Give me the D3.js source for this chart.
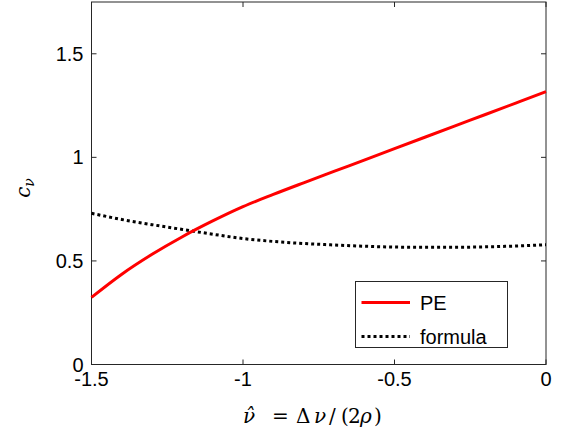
<!DOCTYPE html>
<html>
<head>
<meta charset="utf-8">
<script src="https://cdn.jsdelivr.net/npm/d3@7"></script>
<style>
  body { margin: 0; background: #fff; }
  svg { display: block; }
</style>
</head>
<body>
<svg id="chart" width="564" height="440"></svg>
<script>
// Normalised detuning values
const nuHat = [-1.5, -1.4, -1.3, -1.2, -1.1, -1.0, -0.9, -0.8, -0.7, -0.6, -0.5, -0.4, -0.3, -0.2, -0.1, 0];
// c_nu from the PE computation
const pe = [0.324, 0.436, 0.532, 0.617, 0.693, 0.762, 0.821, 0.877, 0.932, 0.987, 1.042, 1.097, 1.152, 1.207, 1.262, 1.317];
// c_nu from the closed-form formula
const formula = [0.73, 0.70, 0.675, 0.652, 0.629, 0.608, 0.594, 0.584, 0.577, 0.571, 0.567, 0.566, 0.566, 0.568, 0.572, 0.578];

const xTicks = [-1.5, -1, -0.5, 0];
const yTicks = [0, 0.5, 1, 1.5];
const seriesNames = ["PE", "formula"];

(function draw() {
  const svg = d3.select("#chart");
  const plotLeft = 91.5, plotRight = 546, plotTop = 2, plotBottom = 364.5;

  const x = d3.scaleLinear().domain([-1.5, 0]).range([plotLeft, plotRight]);
  const y = d3.scaleLinear().domain([0, 1.75]).range([plotBottom, plotTop]);

  const font = "'Liberation Sans', Arial, Helvetica, sans-serif";
  const serif = "'DejaVu Serif', 'Liberation Serif', serif";
  const axisColor = "#262626";
  const fontSize = 20;

  // plot frame
  svg.append("rect")
    .attr("x", plotLeft).attr("y", plotTop)
    .attr("width", plotRight - plotLeft).attr("height", plotBottom - plotTop)
    .attr("fill", "none").attr("stroke", axisColor).attr("stroke-width", 1);

  // inward ticks on all four sides
  const tickLen = 5;
  const tg = svg.append("g").attr("stroke", axisColor).attr("stroke-width", 1);
  xTicks.forEach(t => {
    tg.append("line").attr("x1", x(t)).attr("x2", x(t)).attr("y1", plotBottom).attr("y2", plotBottom - tickLen);
    tg.append("line").attr("x1", x(t)).attr("x2", x(t)).attr("y1", plotTop).attr("y2", plotTop + tickLen);
  });
  yTicks.forEach(t => {
    tg.append("line").attr("x1", plotLeft).attr("x2", plotLeft + tickLen).attr("y1", y(t)).attr("y2", y(t));
    tg.append("line").attr("x1", plotRight).attr("x2", plotRight - tickLen).attr("y1", y(t)).attr("y2", y(t));
  });

  // tick labels
  const fmt = d => (d === 0 ? "0" : String(d));
  svg.append("g").selectAll("text").data(xTicks).join("text")
    .attr("x", d => x(d)).attr("y", plotBottom + 21.5)
    .attr("text-anchor", "middle")
    .attr("font-family", font).attr("font-size", fontSize).attr("fill", "#000")
    .text(fmt);
  svg.append("g").selectAll("text").data(yTicks).join("text")
    .attr("x", plotLeft - 8).attr("y", d => y(d) + 7)
    .attr("text-anchor", "end")
    .attr("font-family", font).attr("font-size", fontSize).attr("fill", "#000")
    .text(fmt);

  // curves
  const line = d3.line().x((d, i) => x(nuHat[i])).y(d => y(d)).curve(d3.curveMonotoneX);

  svg.append("path").datum(formula)
    .attr("d", line).attr("fill", "none")
    .attr("stroke", "#000").attr("stroke-width", 3)
    .attr("stroke-dasharray", "3,3");

  svg.append("path").datum(pe)
    .attr("d", line).attr("fill", "none")
    .attr("stroke", "#ff0000").attr("stroke-width", 3);

  // legend
  const lg = svg.append("g");
  lg.append("rect")
    .attr("x", 355.5).attr("y", 281.5).attr("width", 152).attr("height", 66)
    .attr("fill", "#fff").attr("stroke", axisColor).attr("stroke-width", 1);
  const legendRows = [
    { name: seriesNames[0], color: "#ff0000", dash: null, y: 302.5 },
    { name: seriesNames[1], color: "#000", dash: "3,3", y: 336.5 }
  ];
  legendRows.forEach(r => {
    lg.append("line")
      .attr("x1", 361.5).attr("x2", 410).attr("y1", r.y).attr("y2", r.y)
      .attr("stroke", r.color).attr("stroke-width", 3)
      .attr("stroke-dasharray", r.dash);
    lg.append("text")
      .attr("x", 420).attr("y", r.y + 7)
      .attr("font-family", font).attr("font-size", fontSize).attr("fill", "#000")
      .text(r.name);
  });

  // x-axis title: math-style pieces laid out along the baseline
  const base = 423;
  const xl = svg.append("text")
    .attr("y", base)
    .attr("font-family", serif)
    .attr("font-size", 20).attr("fill", "#000");
  const pieces = [
    { t: "\u03BD\u0302", x: 243, it: true },
    { t: "=", x: 272, it: false },
    { t: "\u0394", x: 296, it: false },
    { t: "\u03BD", x: 314, it: true },
    { t: "/", x: 329, it: false },
    { t: "(", x: 341, it: false },
    { t: "2", x: 348, it: false },
    { t: "\u03C1", x: 360, it: true },
    { t: ")", x: 374, it: false }
  ];
  pieces.forEach(p => {
    xl.append("tspan").attr("x", p.x)
      .attr("font-style", p.it ? "italic" : "normal")
      .text(p.t);
  });

  // y-axis title
  const yl = svg.append("text")
    .attr("transform", "translate(30,188) rotate(-90)")
    .attr("text-anchor", "middle")
    .attr("font-family", serif)
    .attr("font-size", 20).attr("fill", "#000");
  yl.append("tspan").attr("font-style", "italic").text("c");
  yl.append("tspan").attr("font-style", "italic").attr("font-size", 14).attr("dy", 4).text("\u03BD");
})();
</script>
</body>
</html>
